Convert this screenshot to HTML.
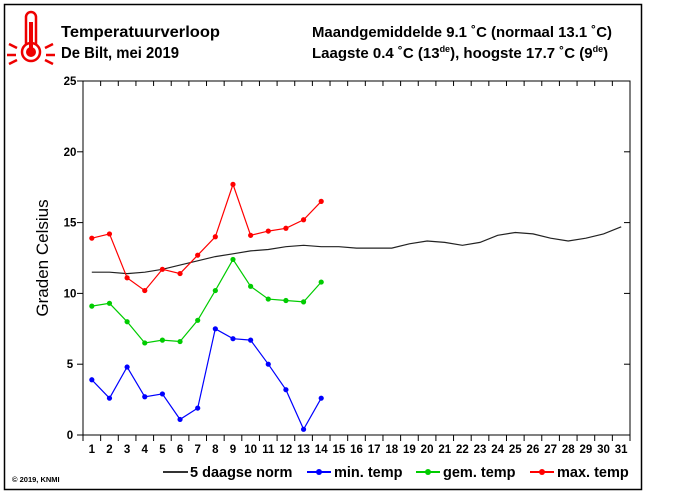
<!DOCTYPE html>
<html><head><meta charset="utf-8"><style>
body{margin:0;background:#fff;width:700px;height:495px;overflow:hidden}
svg{display:block;font-family:"Liberation Sans",Arial,sans-serif}
</style></head><body>
<svg id="s" width="700" height="495" viewBox="0 0 700 495">
<rect x="4.5" y="4.5" width="637" height="485" fill="#fff" stroke="#000" stroke-width="1.5"/>
<!-- thermometer -->
<g fill="none" stroke="#e00" stroke-width="2.5">
<path d="M26 44 V17 a5 5 0 0 1 10 0 V44"/>
<circle cx="31" cy="52" r="9"/>
<path d="M9 44 l8 4 M7 55 h9 M9 64 l8 -4 M53 44 l-8 4 M55 55 h-9 M53 64 l-8 -4"/>
</g>
<circle cx="31" cy="52" r="5" fill="#e00"/>
<rect x="29" y="22" width="4" height="28" fill="#e00"/>
<g font-weight="bold" fill="#000">
<text x="61" y="37" font-size="16" textLength="159" lengthAdjust="spacingAndGlyphs">Temperatuurverloop</text>
<text x="61" y="58" font-size="16" textLength="118" lengthAdjust="spacingAndGlyphs">De Bilt, mei 2019</text>
<text x="312" y="37" font-size="15" textLength="300" lengthAdjust="spacingAndGlyphs">Maandgemiddelde 9.1 ˚C (normaal 13.1 ˚C)</text>
<text x="312" y="58" font-size="15">Laagste 0.4 ˚C (13<tspan font-size="9" dy="-6">de</tspan><tspan dy="6">), hoogste 17.7 ˚C (9</tspan><tspan font-size="9" dy="-6">de</tspan><tspan dy="6">)</tspan></text>
</g>
<text transform="translate(48,258) rotate(-90)" text-anchor="middle" font-size="17">Graden Celsius</text>
<g id="ax" stroke="#000" stroke-width="1"></g>
<g id="lbl" font-size="11.5" font-weight="bold" text-anchor="middle"></g>
<g id="data"></g>
<text x="12" y="482" font-size="7.5" font-weight="bold">© 2019, KNMI</text>
<g font-size="14.5" font-weight="bold">
<line x1="163" y1="472" x2="188" y2="472" stroke="#333" stroke-width="2"/>
<text x="190" y="477">5 daagse norm</text>
<line x1="307" y1="472" x2="331" y2="472" stroke="#00f" stroke-width="2"/><circle cx="319" cy="472" r="3" fill="#00f"/>
<text x="334" y="477">min. temp</text>
<line x1="416" y1="472" x2="440" y2="472" stroke="#0c0" stroke-width="2"/><circle cx="428" cy="472" r="3" fill="#0c0"/>
<text x="443" y="477">gem. temp</text>
<line x1="530" y1="472" x2="554" y2="472" stroke="#f00" stroke-width="2"/><circle cx="542" cy="472" r="3" fill="#f00"/>
<text x="557" y="477">max. temp</text>
</g>
</svg>
<script>
var NS="http://www.w3.org/2000/svg";
function el(p,t,a,txt){var e=document.createElementNS(NS,t);for(var k in a)e.setAttribute(k,a[k]);if(txt!=null)e.textContent=txt;document.getElementById(p).appendChild(e);return e;}
var L=83,R=630,T=81,B=435,dx=(R-L)/31,dy=(B-T)/25;
function X(d){return L+(d-0.5)*dx}function Y(v){return B-v*dy}
el("ax","rect",{x:L,y:T,width:R-L,height:B-T,fill:"none",stroke:"#000"});
for(var i=0;i<=31;i++){var x=L+i*dx;el("ax","line",{x1:x,y1:B,x2:x,y2:B+6});el("ax","line",{x1:x,y1:T,x2:x,y2:T+5});}
for(var d=1;d<=31;d++)el("lbl","text",{x:X(d),y:B+18},d);
for(var v=0;v<=25;v+=5){var y=Y(v);el("ax","line",{x1:L-6,y1:y,x2:L,y2:y});el("ax","line",{x1:R-6,y1:y,x2:R,y2:y});el("lbl","text",{x:L-13,y:y+4},v);}
var norm=[11.5,11.5,11.4,11.5,11.7,12.0,12.3,12.6,12.8,13.0,13.1,13.3,13.4,13.3,13.3,13.2,13.2,13.2,13.5,13.7,13.6,13.4,13.6,14.1,14.3,14.2,13.9,13.7,13.9,14.2,14.7];
var mx=[13.9,14.2,11.1,10.2,11.7,11.4,12.7,14.0,17.7,14.1,14.4,14.6,15.2,16.5];
var gm=[9.1,9.3,8.0,6.5,6.7,6.6,8.1,10.2,12.4,10.5,9.6,9.5,9.4,10.8];
var mn=[3.9,2.6,4.8,2.7,2.9,1.1,1.9,7.5,6.8,6.7,5.0,3.2,0.4,2.6];
function pts(a){return a.map(function(v,i){return X(i+1).toFixed(1)+","+Y(v).toFixed(1)}).join(" ")}
el("data","polyline",{points:pts(norm),fill:"none",stroke:"#222","stroke-width":1.2});
[[mn,"#00f"],[gm,"#0c0"],[mx,"#f00"]].forEach(function(s){
el("data","polyline",{points:pts(s[0]),fill:"none",stroke:s[1],"stroke-width":1.2});
s[0].forEach(function(v,i){el("data","circle",{cx:X(i+1),cy:Y(v),r:2.6,fill:s[1]})});});
</script>
</body></html>
